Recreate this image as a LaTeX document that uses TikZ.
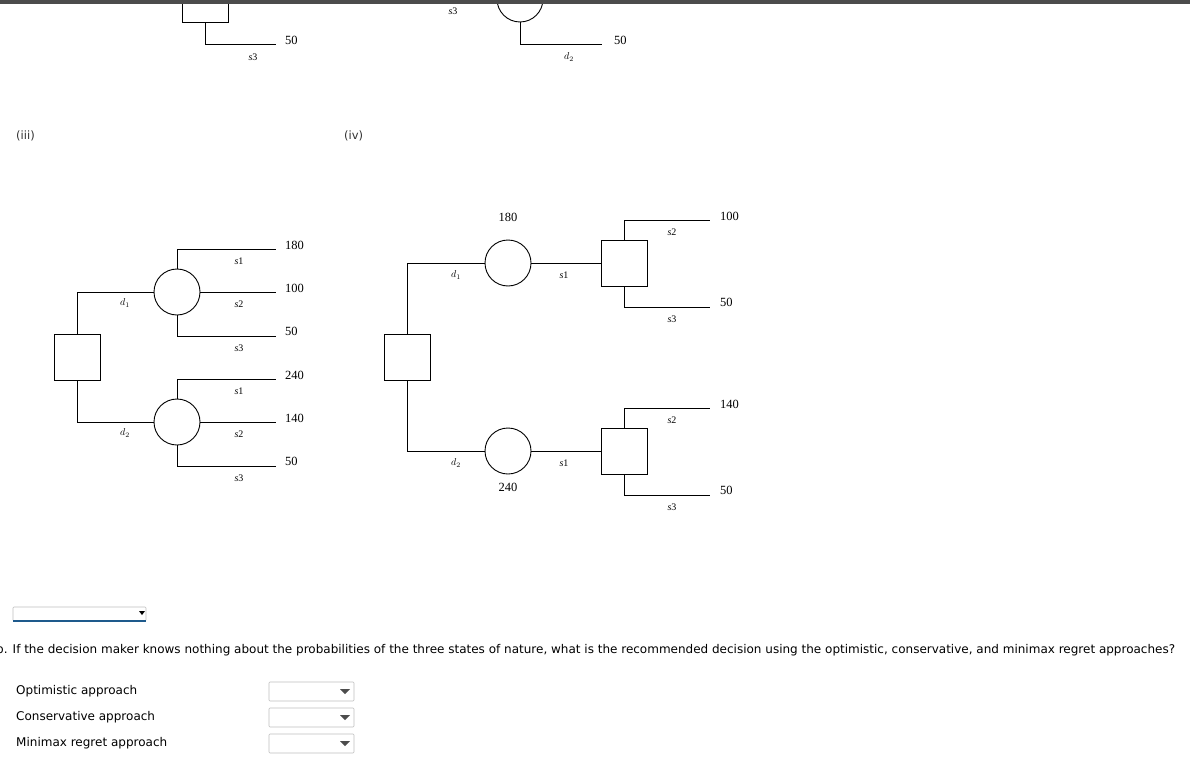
\documentclass[tikz,border=0pt]{standalone}
\usepackage{fontspec}
\setmainfont{Liberation Serif}
\newfontfamily\uifont{DejaVu Sans}
\begin{document}
\begin{tikzpicture}[x=1pt,y=-1pt,
  dec/.style={draw,line width=0.9pt,minimum size=46pt,inner sep=0pt,fill=white},
  chance/.style={draw,line width=0.9pt,circle,minimum size=46pt,inner sep=0pt,fill=white},
  ln/.style={line width=0.9pt},
  val/.style={font=\fontsize{12.5}{14}\selectfont,anchor=west,inner sep=0pt},
  sl/.style={font=\fontsize{10}{12}\selectfont,inner sep=0pt},
  ui/.style={font=\uifont\fontsize{12}{14}\selectfont,anchor=west,inner sep=0pt},
  dd/.style={draw=black!25,line width=0.6pt,rounded corners=1pt}]
\useasboundingbox (0,0) rectangle (1190,765);
\fill[white] (0,0) rectangle (1190,765);
% top partial
\node[dec,minimum size=46pt] (tq) at (205,-1) {};
\coordinate (tqe) at (276,44);
\draw[ln] (tq.south) |- (tqe);
\node[val] (tv) at (285,40) {50};
\node[sl] (ts) at (253,57) {\textit{s}3};
\node[chance] (tc) at (520,-1) {};
\coordinate (tce) at (602,44);
\draw[ln] (tc.south) |- (tce);
\node[val] (tv2) at (614,40) {50};
\node[sl] (td) at (569,57) {$d_2$};
\node[sl] (ts3) at (453,11) {\textit{s}3};
\fill[black!70] (0,0) rectangle (1190,4);
% labels
\node[ui,font=\uifont\fontsize{11.5}{12}\selectfont\color{black!80}] (l3) at (16,136) {(iii)};
\node[ui,font=\uifont\fontsize{11.5}{12}\selectfont\color{black!80}] (l4) at (344,136) {(iv)};
% tree iii
\node[dec] (A) at (77,357) {};
\node[chance] (C1) at (177,292) {};
\node[chance] (C2) at (177,422) {};
\draw[ln] (A.north) |- (C1.west);
\draw[ln] (A.south) |- (C2.west);
\node[sl] (d1a) at (125,303) {$d_1$};
\node[sl] (d2a) at (125,433) {$d_2$};
\foreach \c/\y/\a/\b/\cc/\n in {C1/292/180/100/50/u,C2/422/240/140/50/w}{
  \coordinate (\n1) at (276,\y-43);
  \coordinate (\n2) at (276,\y);
  \coordinate (\n3) at (276,\y+44);
  \draw[ln] (\c.north) |- (\n1);
  \draw[ln] (\c.east) -- (\n2);
  \draw[ln] (\c.south) |- (\n3);
  \node[val] (\n v1) at (285,\y-47) {\a};
  \node[val] (\n v2) at (285,\y-4) {\b};
  \node[val] (\n v3) at (285,\y+39) {\cc};
  \node[sl] (\n s1) at (239,\y-31) {\textit{s}1};
  \node[sl] (\n s2) at (239,\y+12) {\textit{s}2};
  \node[sl] (\n s3) at (239,\y+56) {\textit{s}3};
}
% tree iv
\node[dec] (B) at (407,357) {};
\node[chance] (E1) at (508,263) {};
\node[chance] (E2) at (508,451) {};
\draw[ln] (B.north) |- (E1.west);
\draw[ln] (B.south) |- (E2.west);
\node[sl] (d1b) at (456,275) {$d_1$};
\node[sl] (d2b) at (456,463) {$d_2$};
\node[val,anchor=center] (e1v) at (508,217) {180};
\node[val,anchor=center] (e2v) at (508,487) {240};
\node[dec] (D1) at (624,263) {};
\node[dec] (D2) at (624,451) {};
\draw[ln] (E1.east) -- (D1.west);
\draw[ln] (E2.east) -- (D2.west);
\node[sl] (s1b) at (564,275) {\textit{s}1};
\node[sl] (s1c) at (564,463) {\textit{s}1};
\foreach \d/\y/\a/\b/\n in {D1/263/100/50/p,D2/451/140/50/q}{
  \coordinate (\n1) at (710,\y-43);
  \coordinate (\n3) at (710,\y+44);
  \draw[ln] (\d.north) |- (\n1);
  \draw[ln] (\d.south) |- (\n3);
  \node[val] (\n v1) at (720,\y-47) {\a};
  \node[val] (\n v3) at (720,\y+39) {\b};
  \node[sl] (\n s2) at (672,\y-31) {\textit{s}2};
  \node[sl] (\n s3) at (672,\y+56) {\textit{s}3};
}
% dropdown top
\draw[dd] (13,607) rectangle (146,621);
\draw[line width=2pt,color={rgb,255:red,30;green,90;blue,140}] (13,621) -- (146,621);
\fill[black] (139,611) -- (145,611) -- (142,615) -- cycle;
% question
\node[ui] (q) at (-4,650) {b. If the decision maker knows nothing about the probabilities of the three states of nature, what is the recommended decision using the optimistic, conservative, and minimax regret approaches?};
\node[ui] (o1) at (16,691) {Optimistic approach};
\node[ui] (o2) at (16,717) {Conservative approach};
\node[ui] (o3) at (16,743) {Minimax regret approach};
\foreach \y in {682,708,734}{
  \draw[dd] (269,\y) rectangle (354,\y+19);
  \fill[black!70] (340,\y+7) -- (350,\y+7) -- (345,\y+12) -- cycle;
}
\end{tikzpicture}
\end{document}
